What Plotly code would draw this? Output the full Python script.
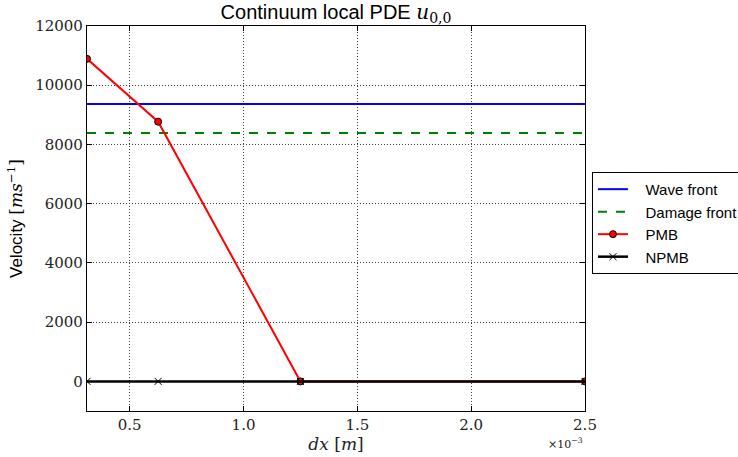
import plotly.graph_objects as go

dx = [0.3125e-3, 0.625e-3, 1.25e-3, 2.5e-3]
wave_front = [9370, 9370, 9370, 9370]
damage_front = [8390, 8390, 8390, 8390]
pmb = [10890, 8770, 0, 0]
npmb = [0, 0, 0, 0]
series_names = ["Wave front", "Damage front", "PMB", "NPMB"]

xtick_vals = [0.5e-3, 1.0e-3, 1.5e-3, 2.0e-3, 2.5e-3]
xtick_text = ["0.5", "1.0", "1.5", "2.0", "2.5"]
ytick_vals = [0, 2000, 4000, 6000, 8000, 10000, 12000]
ytick_text = ["0", "2000", "4000", "6000", "8000", "10000", "12000"]

SERIF = "DejaVu Serif"
SANS = "Liberation Sans"
PAD = "\u00a0\u00a0\u00a0"

fig = go.Figure()
fig.add_trace(go.Scatter(x=dx, y=wave_front, mode="lines", name=PAD + series_names[0],
                         line=dict(color="#0000ff", width=2)))
fig.add_trace(go.Scatter(x=dx, y=damage_front, mode="lines", name=PAD + series_names[1],
                         line=dict(color="#008000", width=2, dash="dash")))
fig.add_trace(go.Scatter(x=dx, y=pmb, mode="lines+markers", name=PAD + series_names[2],
                         line=dict(color="#ff0000", width=2),
                         marker=dict(symbol="circle", size=7, color="#ff0000",
                                     line=dict(color="black", width=1))))
fig.add_trace(go.Scatter(x=dx, y=npmb, mode="lines+markers", name=PAD + series_names[3],
                         line=dict(color="black", width=2.5),
                         marker=dict(symbol="x-thin", size=7, color="black",
                                     line=dict(color="black", width=1))))

axis_common = dict(showline=True, linecolor="black", linewidth=1.2, mirror="ticks",
                   ticks="inside", ticklen=5, tickcolor="black",
                   showgrid=True, gridcolor="#444", griddash="1px,2px", gridwidth=1,
                   zeroline=False, tickfont=dict(family=SERIF, size=15, color="#222"))

fig.update_xaxes(range=[0.3125e-3, 2.5e-3], tickvals=xtick_vals, ticktext=xtick_text,
                 title=dict(text="<i>dx</i> [<i>m</i>]", font=dict(family=SERIF, size=17, color="#222"),
                            standoff=0),
                 **axis_common)
fig.update_yaxes(range=[-1000, 12000], tickvals=ytick_vals, ticktext=ytick_text,
                 title=dict(text="Velocity <span style='font-family:DejaVu Serif'>[<i>ms</i><sup>−1</sup>]</span>",
                            font=dict(family=SANS, size=17, color="black"), standoff=8),
                 **axis_common)

fig.update_layout(
    width=738, height=457, autosize=False,
    margin=dict(l=87, r=153, t=26, b=46, autoexpand=False),
    paper_bgcolor="white", plot_bgcolor="white",
    title=dict(text="Continuum local PDE <span style='font-family:DejaVu Serif'><i>u</i><sub>0,0</sub></span>",
               x=(87 + 585) / 2 / 738, xanchor="center", y=1 - 12 / 457, yanchor="middle",
               font=dict(family=SANS, size=20, color="black")),
    showlegend=True,
    legend=dict(x=1.014, y=0.621, xanchor="left", yanchor="top",
                bordercolor="black", borderwidth=1, bgcolor="white",
                font=dict(family=SANS, size=15, color="black"),
                itemwidth=30, tracegroupgap=0),
    annotations=[dict(text="×10<sup>−3</sup>", xref="paper", yref="paper",
                      x=1.0, y=-0.06, xanchor="right", yanchor="top", showarrow=False,
                      font=dict(family=SERIF, size=11, color="#222"))],
)

fig.write_html("out.html")
